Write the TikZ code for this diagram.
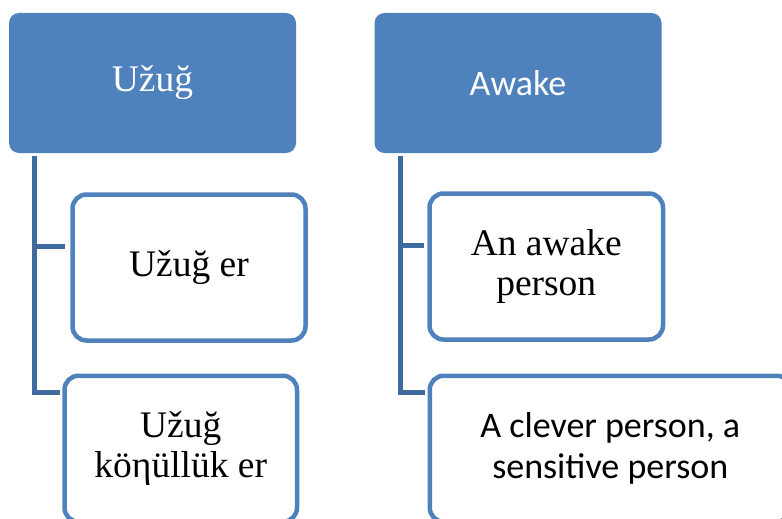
\documentclass[tikz,border=0pt]{standalone}
\usepackage{fontspec}
\setmainfont{Liberation Serif}
\setsansfont{Carlito}
\usepackage{tikz}
\usepackage{xcolor}
\usetikzlibrary{calc}
\definecolor{boxblue}{HTML}{4F81BD}
\definecolor{linkblue}{HTML}{3F6B9E}

\begin{document}
\begin{tikzpicture}[x=1pt, y=-1pt,
  head/.style={fill=boxblue, draw=none, rounded corners=10pt, minimum width=287pt, minimum height=140pt, text=white, inner sep=0pt},
  item/.style={draw=boxblue, line width=4.5pt, fill=white, rounded corners=14pt, minimum height=146pt, align=center, inner sep=0pt},
  link/.style={draw=linkblue, line width=5pt},
  serif/.style={font=\fontsize{37.5}{40}\selectfont},
  sans/.style={font=\sffamily\fontsize{36}{41}\selectfont}]

  % Page frame (same size as the original image)
  \useasboundingbox (0,0) rectangle (782,519);

  % --- Title boxes ---
  \node[head, serif] (uzug) at (152.5,83) {Užuğ};
  \node[head, sans] (awake) at (518,83) {Awake};

  % --- Child boxes ---
  \node[item, serif, minimum width=233pt] (uzer) at (189,267.5) {Užuğ er};
  \node[item, serif, minimum width=232.5pt] (konul) at (180.75,448.75) {Užuğ\\köηüllük er};
  \node[item, serif, minimum width=233.5pt] (awper) at (546.25,266.5) {An awake\\person};
  \node[item, sans, minimum width=361pt] (clever) at (610.25,448.75) {A clever person, a\\sensitive person};

  % Trunk start points under each title
  \coordinate (trunkL) at ($(uzug.south west)+(26,3)$);
  \coordinate (trunkR) at ($(awake.south west)+(26,3)$);

  % --- Connectors ---
  \draw[link] (trunkL) |- ($(uzer.north west)+(-5,54)$);
  \draw[link] (trunkL) |- ($(konul.north west)+(-2,19)$);
  \draw[link] (trunkR) |- ($(awper.north west)+(-3,54)$);
  \draw[link] (trunkR) |- ($(clever.north west)+(-3,19)$);
\end{tikzpicture}
\end{document}
